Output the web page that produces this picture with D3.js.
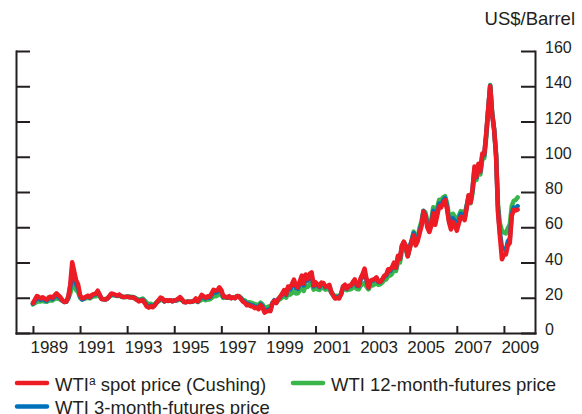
<!DOCTYPE html>
<html lang="en">
<head>
<meta charset="UTF-8">
<title>WTI spot and futures prices</title>
<script src="https://d3js.org/d3.v7.min.js"></script>
<style>
  body { margin: 0; background: #fff; }
  svg { font-family: "Liberation Sans", Arial, Helvetica, sans-serif; }
  .axis path, .axis line { stroke: #231f20; stroke-width: 2; }
  .axis text { fill: #231f20; font-size: 16px; }
  .axis.years text { font-size: 17px; }
  .series { fill: none; stroke-width: 4.5; stroke-linejoin: round; stroke-linecap: round; }
</style>
</head>
<body>
<script>
var width = 582,
    height = 414;

// monthly values, Jan 1989 .. Aug 2009 (US$/barrel, month end)
var startYear = 1989;

var spot = [
  17.0, 19.0, 21.0, 20.4, 19.6, 20.3, 19.4, 18.9, 20.2, 20.6, 19.9, 21.4,
  22.5, 21.4, 20.3, 18.6, 17.6, 17.8, 20.6, 27.5, 40.2, 35.0, 30.0, 27.5,
  21.5, 19.7, 19.9, 20.6, 21.2, 20.3, 21.6, 22.1, 22.4, 24.0, 21.8, 19.3,
  19.1, 19.0, 19.6, 21.0, 22.4, 22.2, 21.6, 21.2, 21.8, 20.7, 20.4, 20.5,
  20.6, 20.3, 20.2, 20.3, 19.5, 18.7, 17.9, 18.3, 18.6, 16.9, 15.0, 14.4,
  15.2, 14.6, 15.6, 17.2, 18.6, 20.1, 19.6, 18.0, 18.6, 18.3, 18.6, 18.0,
  18.5, 18.7, 19.5, 20.4, 19.0, 17.6, 17.4, 17.8, 17.7, 17.8, 18.2, 19.6,
  17.9, 19.6, 21.6, 20.8, 20.0, 20.9, 20.5, 22.3, 24.5, 24.0, 24.3, 25.9,
  24.4, 20.8, 20.6, 20.0, 20.9, 19.7, 20.2, 19.7, 21.0, 20.6, 19.3, 17.8,
  17.1, 15.7, 16.0, 15.2, 15.1, 14.1, 14.3, 13.5, 15.8, 14.5, 11.6, 12.2,
  12.6, 12.4, 16.6, 18.4, 17.0, 19.2, 20.6, 22.3, 24.4, 21.9, 26.4, 25.8,
  27.8, 30.3, 27.0, 25.8, 29.4, 32.6, 28.0, 33.2, 30.8, 33.6, 34.4, 27.0,
  28.8, 27.6, 26.4, 28.6, 28.4, 26.3, 26.6, 27.3, 23.5, 21.2, 19.6, 19.8,
  19.6, 21.8, 26.4, 27.4, 25.3, 26.8, 27.0, 28.9, 30.4, 27.2, 26.9, 31.2,
  33.5, 36.6, 30.6, 25.8, 29.6, 30.2, 30.6, 31.6, 29.2, 29.1, 30.4, 32.5,
  33.1, 36.2, 35.8, 37.4, 39.9, 37.1, 43.8, 42.1, 49.6, 51.8, 49.1, 43.5,
  48.2, 51.8, 55.4, 49.7, 51.9, 56.5, 60.6, 68.9, 66.2, 59.8, 57.3, 61.0,
  67.9, 61.4, 66.6, 71.9, 71.3, 73.9, 75.5, 70.3, 62.9, 58.7, 63.1, 61.1,
  58.1, 62.0, 65.9, 65.7, 64.0, 70.7, 78.2, 74.0, 81.7, 94.5, 88.7, 96.0,
  91.8, 101.8, 101.6, 113.5, 127.4, 140.0, 124.1, 115.5, 100.6, 68.1, 54.4, 41.8,
  44.5, 44.6, 49.6, 51.1, 66.3, 69.9, 69.5, 70.0
];

var fut3m = [
  16.8, 18.2, 19.6, 19.4, 18.9, 19.6, 18.7, 18.3, 19.6, 20.0, 19.3, 20.6,
  21.2, 20.5, 19.7, 18.4, 17.6, 17.7, 20.0, 25.8, 33.5, 31.0, 27.6, 25.8,
  20.8, 19.1, 19.5, 20.3, 20.8, 20.0, 21.2, 21.7, 21.9, 23.3, 21.5, 19.3,
  19.1, 19.0, 19.6, 20.9, 22.0, 21.9, 21.4, 21.1, 21.6, 20.7, 20.4, 20.5,
  20.6, 20.4, 20.3, 20.3, 19.7, 18.9, 18.2, 18.6, 18.9, 17.3, 15.7, 15.0,
  15.6, 15.0, 15.8, 17.2, 18.4, 19.6, 19.4, 18.0, 18.5, 18.3, 18.5, 18.0,
  18.4, 18.5, 19.2, 20.0, 18.8, 17.6, 17.5, 17.8, 17.6, 17.7, 18.2, 19.1,
  17.8, 19.2, 20.6, 20.2, 19.6, 20.3, 20.0, 21.5, 23.4, 23.0, 23.5, 24.8,
  23.5, 20.5, 20.5, 20.0, 20.7, 19.8, 20.1, 19.8, 20.9, 20.7, 19.6, 18.2,
  17.6, 16.2, 16.5, 15.8, 15.7, 14.8, 14.9, 14.2, 16.3, 15.1, 12.6, 12.9,
  13.4, 13.0, 16.9, 18.6, 17.3, 19.3, 20.4, 21.9, 23.9, 21.6, 25.6, 24.7,
  26.4, 28.5, 25.8, 25.1, 28.2, 30.8, 27.0, 31.7, 29.7, 32.0, 32.9, 26.4,
  28.0, 27.0, 26.0, 27.9, 28.0, 26.0, 26.4, 27.0, 23.2, 21.6, 19.9, 20.3,
  20.0, 22.0, 26.0, 26.9, 25.2, 26.4, 26.6, 28.3, 29.5, 26.8, 26.6, 30.2,
  32.0, 34.2, 29.8, 25.7, 29.4, 29.6, 30.3, 31.2, 29.0, 29.0, 30.2, 32.0,
  32.6, 35.2, 35.0, 36.7, 39.2, 37.0, 43.1, 42.0, 49.3, 51.6, 49.6, 44.0,
  49.0, 52.6, 56.6, 51.0, 53.0, 57.6, 61.6, 69.2, 66.8, 61.0, 58.6, 62.0,
  69.3, 63.0, 68.4, 73.4, 72.8, 75.0, 76.5, 71.6, 64.0, 61.0, 65.2, 63.3,
  60.3, 63.8, 67.7, 67.0, 65.3, 71.5, 77.8, 74.4, 81.4, 93.0, 88.3, 95.0,
  91.6, 101.0, 101.0, 112.9, 127.0, 140.3, 124.5, 115.9, 101.0, 69.5, 56.5, 48.5,
  47.5, 47.0, 52.0, 53.5, 67.5, 71.2, 70.8, 72.0
];

var fut12m = [
  16.2, 16.9, 17.8, 18.0, 17.9, 18.2, 17.8, 17.7, 18.5, 18.6, 18.5, 19.3,
  19.7, 19.4, 18.9, 18.3, 17.9, 18.1, 19.4, 22.4, 27.5, 26.5, 24.4, 23.2,
  20.0, 19.0, 19.3, 19.8, 20.0, 19.6, 20.4, 20.8, 20.8, 21.8, 20.7, 19.4,
  19.3, 19.2, 19.7, 20.6, 21.3, 21.5, 21.2, 21.0, 21.3, 20.8, 20.4, 20.3,
  20.6, 20.7, 20.6, 20.4, 20.1, 19.4, 18.8, 19.2, 19.5, 18.4, 17.2, 16.3,
  16.6, 15.9, 16.3, 17.3, 18.0, 18.7, 18.8, 17.9, 18.4, 18.1, 18.4, 18.2,
  18.4, 18.4, 18.7, 19.4, 18.5, 17.7, 17.8, 17.9, 17.8, 17.8, 18.1, 18.3,
  17.6, 18.3, 18.9, 19.2, 18.6, 19.1, 19.0, 19.8, 21.0, 20.8, 21.3, 22.2,
  21.6, 19.9, 20.2, 20.0, 20.3, 19.8, 20.1, 19.9, 20.9, 21.0, 19.9, 18.8,
  18.5, 17.2, 17.5, 17.2, 16.9, 16.3, 16.2, 15.6, 17.3, 16.2, 14.6, 14.5,
  15.0, 14.5, 17.0, 18.2, 17.3, 18.6, 19.3, 20.2, 21.6, 20.0, 22.6, 21.8,
  22.6, 23.9, 22.4, 22.5, 24.2, 26.0, 23.8, 27.0, 26.2, 27.6, 28.4, 24.6,
  25.4, 24.8, 24.4, 25.6, 25.6, 24.6, 24.8, 25.4, 22.8, 21.8, 20.6, 21.2,
  21.0, 22.1, 24.6, 25.2, 24.3, 24.6, 24.8, 25.8, 26.4, 25.0, 24.8, 26.8,
  27.8, 28.4, 26.3, 24.8, 26.8, 26.9, 27.6, 28.3, 27.3, 27.6, 28.6, 30.0,
  30.4, 32.4, 32.6, 33.6, 36.2, 35.2, 40.2, 40.0, 46.4, 48.7, 47.2, 43.5,
  48.0, 52.5, 57.5, 52.6, 54.2, 59.6, 63.4, 69.4, 68.4, 63.5, 61.2, 64.2,
  71.4, 66.4, 71.0, 75.6, 75.4, 76.9, 77.6, 73.8, 66.2, 63.6, 67.7, 66.0,
  63.7, 66.3, 69.2, 68.7, 67.6, 72.4, 76.3, 73.6, 79.4, 89.6, 86.8, 92.4,
  90.0, 98.8, 99.2, 111.0, 126.5, 140.7, 125.2, 115.4, 101.4, 72.4, 62.0, 58.0,
  57.0, 56.5, 59.5, 61.5, 72.0, 75.0, 75.5, 77.0
];

var yTicks = [0, 20, 40, 60, 80, 100, 120, 140, 160];
var yearTicks = [1989, 1991, 1993, 1995, 1997, 1999, 2001, 2003, 2005, 2007, 2009];
var seriesColors = ["#ed1c24", "#0072bc", "#39b54a"];

var svg = d3.select("body").append("svg")
    .attr("width", width)
    .attr("height", height);

var x = d3.scaleLinear().domain([1988.28, 2010.32]).range([16, 535]);
var y = d3.scaleLinear().domain([0, 160]).range([333, 51]);

// axes
svg.append("g").attr("class", "axis")
    .attr("transform", "translate(16,0)")
    .call(d3.axisRight(y).tickValues(yTicks).tickSize(14).tickSizeOuter(0).tickFormat(""));

var right = svg.append("g").attr("class", "axis")
    .attr("transform", "translate(535,0)")
    .call(d3.axisRight(y).tickValues(yTicks).tickSize(-14).tickSizeOuter(0).tickPadding(10));
right.selectAll("text").attr("dy", "0.1em");

var bottom = svg.append("g").attr("class", "axis years")
    .attr("transform", "translate(0,333)")
    .call(d3.axisBottom(x).tickValues(yearTicks).tickSize(-7).tickSizeOuter(0)
      .tickPadding(8).tickFormat(d3.format("d")));
bottom.selectAll("text").attr("text-anchor", "start").attr("x", -3);

svg.selectAll(".axis .domain").attr("stroke-linecap", "square");

svg.append("text")
    .attr("x", 575).attr("y", 25)
    .attr("text-anchor", "end")
    .attr("fill", "#231f20")
    .style("font-size", "18.5px")
    .text("US$/Barrel");

// lines, 12-month first so spot sits on top
var line = d3.line()
    .x(function(d, i) { return x(startYear + i / 12); })
    .y(function(d) { return y(d); });

[[fut12m, seriesColors[2]], [fut3m, seriesColors[1]], [spot, seriesColors[0]]].forEach(function(s) {
  svg.append("path")
      .attr("class", "series")
      .attr("stroke", s[1])
      .attr("d", line(s[0]));
});

// legend
var legend = [
  {color: seriesColors[0], x: 17, y: 383, label: "spot price (Cushing)", sup: true},
  {color: seriesColors[2], x: 293, y: 383, label: "WTI 12-month-futures price"},
  {color: seriesColors[1], x: 17, y: 406.5, label: "WTI 3-month-futures price"}
];

legend.forEach(function(d) {
  svg.append("line")
      .attr("x1", d.x).attr("x2", d.x + 30)
      .attr("y1", d.y).attr("y2", d.y)
      .attr("stroke", d.color)
      .attr("stroke-width", 4.5)
      .attr("stroke-linecap", "round");
  var t = svg.append("text")
      .attr("x", d.x + 38).attr("y", d.y + 7.5)
      .attr("fill", "#231f20")
      .style("font-size", "18.5px");
  if (d.sup) {
    t.append("tspan").text("WTI");
    t.append("tspan").attr("dy", -6).style("font-size", "12px").text("a");
    t.append("tspan").attr("dy", 6).text(" " + d.label);
  } else {
    t.text(d.label);
  }
});
</script>
</body>
</html>
